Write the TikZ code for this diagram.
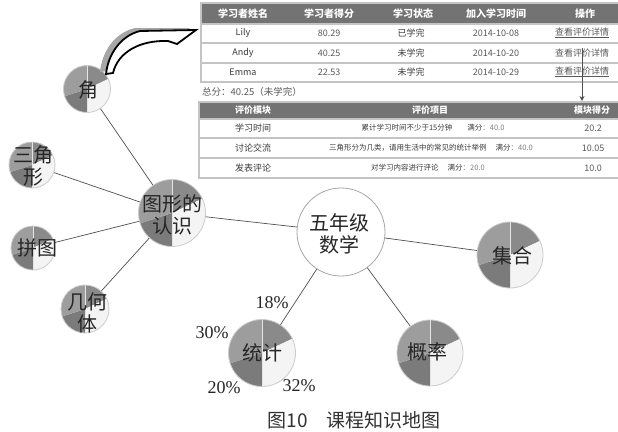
\documentclass[tikz,border=0pt]{standalone}
\usepackage{fontspec}
\newfontfamily\cjkf{Noto Sans CJK SC}
\newfontfamily\pctf{Liberation Serif}
\usetikzlibrary{arrows.meta}
\definecolor{hdr}{HTML}{737373}
\definecolor{rulec}{HTML}{C4C4C4}
\definecolor{wa}{HTML}{8A8A8A}
\definecolor{wb}{HTML}{F4F4F4}
\definecolor{wc}{HTML}{7B7B7B}
\definecolor{wd}{HTML}{9D9D9D}
\definecolor{linkc}{HTML}{505050}
\definecolor{bodyc}{HTML}{3A3A3A}
\definecolor{numc}{HTML}{5A5A5A}
\begin{document}
\begin{tikzpicture}[x=1pt,y=-1pt,
  pie/.style={circle, inner sep=0pt, minimum size=#1, draw=gray!40, line width=0.8pt,
    path picture={
      \coordinate (pc) at (path picture bounding box.center);
      \begin{scope}[shift={(pc)}]
        \fill[wa] (0pt,0pt) -- (90:60pt) -- (57.6:60pt) -- (25.2:60pt) -- cycle;
        \fill[wb] (0pt,0pt) -- (25.2:60pt) -- (-32.4:60pt) -- (-90:60pt) -- cycle;
        \fill[wc] (0pt,0pt) -- (-90:60pt) -- (-126:60pt) -- (-162:60pt) -- cycle;
        \fill[wd] (0pt,0pt) -- (-162:60pt) -- (-216:60pt) -- (-270:60pt) -- cycle;
        \draw[white!80!gray, line width=0.5pt] (0pt,0pt) -- (90:60pt);
      \end{scope}
    }},
  mainc/.style={circle, inner sep=0pt, minimum size=88pt, draw=gray!70, line width=0.8pt, fill=white},
  ntext/.style={font=\cjkf\fontsize{20}{22.5}\selectfont, align=center, inner sep=0pt, text=black!85},
  pct/.style={font=\pctf\fontsize{18}{20}\selectfont, inner sep=0pt, text=black!85},
  link/.style={draw=linkc, line width=0.7pt},
  th/.style={font=\cjkf\bfseries\fontsize{10}{12}\selectfont, text=white, inner sep=0pt},
  thb/.style={font=\cjkf\bfseries\fontsize{9}{11}\selectfont, text=white, inner sep=0pt},
  td/.style={font=\cjkf\fontsize{9}{11}\selectfont, text=bodyc, inner sep=0pt},
  tn/.style={font=\cjkf\fontsize{9}{11}\selectfont, text=numc, inner sep=0pt},
  ti/.style={font=\cjkf\fontsize{7.5}{9}\selectfont, text=bodyc, inner sep=0pt},
  rl/.style={draw=rulec, line width=1.1pt}
]
\useasboundingbox[fill=white] (0,0) rectangle (618,431);

% ---------- table 1 ----------
\fill[hdr] (201,3) rectangle (620,24);
\draw[rl] (201,3) rectangle (620,82);
\draw[rl] (201,24) -- (620,24);
\draw[rl] (201,43) -- (620,43);
\draw[rl] (201,63) -- (620,63);
\node[th] (h1) at (243,14) {学习者姓名};
\node[th] (h2) at (329,14) {学习者得分};
\node[th] (h3) at (413,14) {学习状态};
\node[th] (h4) at (496,14) {加入学习时间};
\node[th] (h5) at (585,14) {操作};
\node[td] (n1) at (243,33) {Lily};
\node[tn] (s1) at (329,33) {80.29};
\node[td] (st1) at (411,33) {已学完};
\node[tn] (d1) at (496,33) {2014-10-08};
\node[tn] (o1) at (582,33) {\underline{查看评价详情}};
\node[td] (n2) at (243,53) {Andy};
\node[tn] (s2) at (329,53) {40.25};
\node[td] (st2) at (411,53) {未学完};
\node[tn] (d2) at (496,53) {2014-10-20};
\node[tn] (o2) at (582,53) {查看评价详情};
\node[td] (n3) at (243,72) {Emma};
\node[tn] (s3) at (329,72) {22.53};
\node[td] (st3) at (411,72) {未学完};
\node[tn] (d3) at (496,72) {2014-10-29};
\node[tn] (o3) at (582,72) {\underline{查看评价详情}};

% arrow between tables
\coordinate (va) at (582,48);
\coordinate (vb) at (582,101);
\draw[linkc, line width=1pt, -{Stealth[length=5pt,width=5pt]}] (va) -- (vb);

\node[font=\cjkf\fontsize{9.5}{11}\selectfont, text=numc, anchor=west, inner sep=0pt] (tot) at (202,92) {总分：40.25（未学完）};

% ---------- table 2 ----------
\fill[hdr] (199,102) rectangle (620,119);
\draw[rl] (199,102) rectangle (620,178);
\draw[rl] (199,119) -- (620,119);
\draw[rl] (199,138) -- (620,138);
\draw[rl] (199,158) -- (620,158);
\node[thb, anchor=west] (g1) at (235,110.5) {评价模块};
\node[thb] (g2) at (430,110.5) {评价项目};
\node[thb] (g3) at (592,110.5) {模块得分};
\node[td, anchor=west] (m1) at (235,128) {学习时间};
\node[td, anchor=west] (m2) at (235,148) {讨论交流};
\node[td, anchor=west] (m3) at (235,168) {发表评论};
\node[ti] (i1) at (433,128) {累计学习时间不少于15分钟\hspace{2em}满分{\color{gray}：40.0}};
\node[ti] (i2) at (431,148) {三角形分为几类，请用生活中的常见的统计举例\hspace{1.2em}满分{\color{gray}：40.0}};
\node[ti] (i3) at (428,168) {对学习内容进行评论\hspace{1.2em}满分{\color{gray}：20.0}};
\node[tn] (v1) at (593,128) {20.2};
\node[tn] (v2) at (593,148) {10.05};
\node[tn] (v3) at (593,168) {10.0};

% ---------- mind map ----------
\node[pie=47pt] (jiao) at (87,89) {};
\node[pie=46pt] (sjx) at (32,165) {};
\node[pie=67pt] (txrs) at (172,213) {};
\node[pie=44pt] (pt) at (33,248) {};
\node[pie=48pt] (jht) at (85,309) {};
\node[mainc] (wnj) at (341,232) {};
\node[pie=66pt] (jh) at (510,255) {};
\node[pie=66pt] (gl) at (430,353) {};
\node[pie=67pt] (tj) at (262,353) {};

\draw[link] (jiao) -- (txrs);
\draw[link] (sjx) -- (txrs);
\draw[link] (pt) -- (txrs);
\draw[link] (jht) -- (txrs);
\draw[link] (txrs) -- (wnj);
\draw[link] (wnj) -- (jh);
\draw[link] (wnj) -- (gl);
\draw[link] (wnj) -- (tj);

\node[ntext] (jiaot) at (88,90) {角};
\node[ntext] (sjxt) at (33,166) {三角\\形};
\node[ntext] (txrst) at (172,215) {图形的\\认识};
\node[ntext] (ptt) at (37,248) {拼图};
\node[ntext] (jhtt) at (87,313) {几何\\体};
\node[ntext] (wnjt) at (339,234) {五年级\\数学};
\node[ntext] (jht2) at (512,256) {集合};
\node[ntext] (glt) at (427,352) {概率};
\node[ntext] (tjt) at (262,353) {统计};

\node[pct] (p18) at (272,303) {18\%};
\node[pct] (p30) at (212,333) {30\%};
\node[pct] (p20) at (224,388) {20\%};
\node[pct] (p32) at (299,386) {32\%};

% ---------- curved arrow ----------
\fill[gray!70] (100,72) .. controls (102,52) and (114,33) .. (135,28) -- (190,28)
   -- (171,41) -- (162,38) .. controls (134,34) and (112,48) .. (107,71) -- cycle;
\draw[black, line width=1.8pt, line join=miter, fill=white]
   (106,74) .. controls (108,55) and (120,36) .. (140,31) -- (196,30)
   -- (177,44) -- (168,41) .. controls (140,40) and (118,52) .. (113,73) -- cycle;

% ---------- caption ----------
\node[font=\cjkf\fontsize{19}{21}\selectfont, text=black!80, inner sep=0pt] (cap) at (354,420) {图10\hspace{1em}课程知识地图};
\end{tikzpicture}
\end{document}
